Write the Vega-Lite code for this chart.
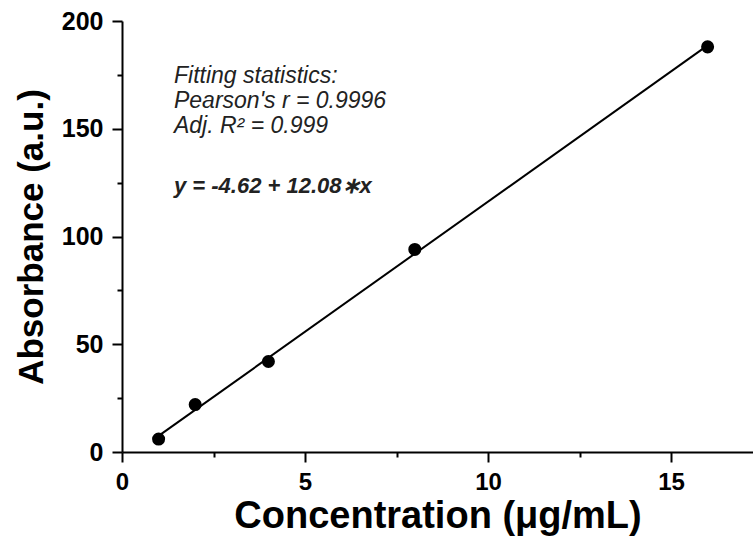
{
  "$schema": "https://vega.github.io/schema/vega-lite/v6.json",
  "autosize": "none",
  "width": 631,
  "height": 431,
  "padding": {"left": 122, "top": 21, "right": 0, "bottom": 94},
  "background": "white",
  "config": {
    "view": {"stroke": null},
    "font": "Liberation Sans"
  },
  "datasets": {
    "points": [
      {"conc": 1, "abs": 6},
      {"conc": 2, "abs": 22},
      {"conc": 4, "abs": 42},
      {"conc": 8, "abs": 94},
      {"conc": 16, "abs": 188}
    ],
    "fit": [
      {"conc": 1, "abs": 7.46},
      {"conc": 16, "abs": 188.66}
    ],
    "notes": [
      {"x": 1.42, "y": 171.2, "t": "Fitting statistics:"},
      {"x": 1.42, "y": 159.6, "t": "Pearson's r = 0.9996"},
      {"x": 1.42, "y": 148.0, "t": "Adj. R² = 0.999"}
    ],
    "eq": [
      {"x": 1.42, "y": 120.2, "t": "y = -4.62 + 12.08∗x"}
    ]
  },
  "layer": [
    {
      "mark": {"type": "rule", "color": "black", "strokeWidth": 2},
      "encoding": {"y": {"datum": 200, "type": "quantitative"}}
    },
    {
      "data": {"name": "fit"},
      "mark": {"type": "line", "color": "black", "strokeWidth": 2},
      "encoding": {
        "x": {
          "field": "conc", "type": "quantitative",
          "scale": {"domain": [0, 17.24], "nice": false, "zero": false},
          "axis": {
            "title": "Concentration (μg/mL)",
            "values": [0, 2.5, 5, 7.5, 10, 12.5, 15],
            "labelExpr": "datum.value % 5 === 0 ? datum.label : ''",
            "grid": false,
            "domainColor": "black", "domainWidth": 2,
            "tickColor": "black", "tickWidth": 2,
            "tickSize": {"condition": {"test": "datum.value % 5 === 0", "value": 10}, "value": 5},
            "labelFontSize": 24, "labelFontWeight": "bold", "labelColor": "black",
            "labelPadding": 8, "labelFlush": false,
            "titleFontSize": 38, "titleFontWeight": "bold", "titleColor": "black",
            "titlePadding": 3
          }
        },
        "y": {
          "field": "abs", "type": "quantitative",
          "scale": {"domain": [0, 200], "nice": false},
          "axis": {
            "title": "Absorbance (a.u.)",
            "values": [0, 25, 50, 75, 100, 125, 150, 175, 200],
            "labelExpr": "datum.value % 50 === 0 ? datum.label : ''",
            "grid": false,
            "domainColor": "black", "domainWidth": 2,
            "tickColor": "black", "tickWidth": 2,
            "tickSize": {"condition": {"test": "datum.value % 50 === 0", "value": 10}, "value": 5},
            "labelFontSize": 25, "labelFontWeight": "bold", "labelColor": "black",
            "labelPadding": 9, "labelFlush": false,
            "titleFontSize": 35, "titleFontWeight": "bold", "titleColor": "black",
            "titlePadding": 12
          }
        }
      }
    },
    {
      "data": {"name": "points"},
      "mark": {"type": "point", "filled": true, "color": "black", "opacity": 1, "size": 170},
      "encoding": {
        "x": {"field": "conc", "type": "quantitative"},
        "y": {"field": "abs", "type": "quantitative"}
      }
    },
    {
      "data": {"name": "notes"},
      "mark": {"type": "text", "align": "left", "baseline": "alphabetic", "fontSize": 23, "fontStyle": "italic", "color": "#222"},
      "encoding": {
        "x": {"field": "x", "type": "quantitative"},
        "y": {"field": "y", "type": "quantitative"},
        "text": {"field": "t"}
      }
    },
    {
      "data": {"name": "eq"},
      "mark": {"type": "text", "align": "left", "baseline": "alphabetic", "fontSize": 22, "fontStyle": "italic", "fontWeight": "bold", "color": "#222"},
      "encoding": {
        "x": {"field": "x", "type": "quantitative"},
        "y": {"field": "y", "type": "quantitative"},
        "text": {"field": "t"}
      }
    }
  ]
}
